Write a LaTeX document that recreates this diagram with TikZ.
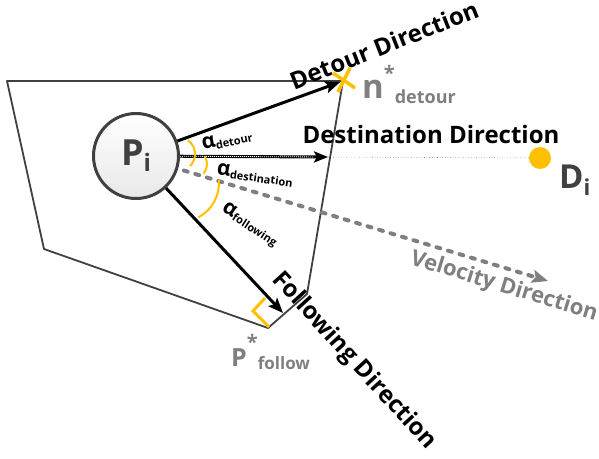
\documentclass[tikz,border=0pt]{standalone}
\usepackage{fontspec}
\setmainfont{Open Sans}
\usetikzlibrary{arrows.meta}
\definecolor{ink}{HTML}{404040}
\definecolor{muted}{HTML}{7F7F7F}
\definecolor{warm}{HTML}{FFC000}
\newcommand\fsz[1]{\fontsize{#1}{#1}\selectfont}

\begin{document}
\begin{tikzpicture}[x=1pt,y=-1pt,
  region/.style={ink,line width=1.8pt,line join=round},
  dirarrow/.style={line width=3pt,-{Stealth[length=15pt,width=12pt,inset=3pt]}},
  dirlabel/.style={font=\bfseries\fsz{24},inner sep=0pt},
  anglabel/.style={font=\bfseries,inner sep=0pt},
  angarc/.style={warm,line width=2pt}]
\useasboundingbox (0,0) rectangle (599,458);

% perception region
\coordinate (tl) at (7,81);
\coordinate (ndetour) at (343,81);
\coordinate (rb) at (307,294);
\coordinate (fc) at (268,328);
\coordinate (bl) at (44,249);
\draw[region] (tl) -- (ndetour) -- (rb) -- (fc) -- (bl) -- cycle;

\coordinate (destend) at (328,157);
\coordinate (pfollow) at (283,313);
\coordinate (velend) at (548,281);

\node[circle,draw=ink,line width=3pt,minimum size=85pt,inner sep=0pt,
  top color=white,bottom color=gray!18,text=ink,font=\bfseries] (pi) at (136,156)
  {\fsz{36}P\raisebox{-6pt}{\fsz{24}i}};
\node[circle,fill=warm,minimum size=22pt,inner sep=0pt] (di) at (540,158) {};

% directions
\draw[muted,line width=0.6pt,dotted] (destend) -- (di);
\draw[muted,line width=4pt,line cap=round,dash pattern=on 4pt off 8pt,shorten <=6pt,
  -{Stealth[length=16pt,width=13pt,inset=3pt]}] (pi) -- (velend);
\draw[dirarrow,shorten >=3pt] (pi) -- (ndetour);
\draw[dirarrow,-{Stealth[length=14pt,width=11pt,inset=3pt]}] (pi) -- (destend);
\draw[white,line width=0.8pt,dash pattern=on 1pt off 1pt,shorten >=14pt] (pi) -- (destend);
\draw[dirarrow] (pi) -- (pfollow);

% angles
\draw[angarc] (178,154) ++(-54:17) arc[start angle=-54,end angle=45,radius=17];
\draw[angarc] (192,164) ++(-30:15) arc[start angle=-30,end angle=40,radius=15];
\draw[angarc] (180,183) ++(-5:39) arc[start angle=-5,end angle=62,radius=39];
\draw[warm,line width=3pt] ([shift={(-3,-30)}]fc) -- ([shift={(-15,-17)}]fc) -- ([shift={(1,-1)}]fc);
\draw[warm,line width=3.5pt] ([shift={(-10,-8)}]ndetour) -- ([shift={(12,7)}]ndetour)
  ([shift={(7,-13)}]ndetour) -- ([shift={(-5,11)}]ndetour);

\node[anglabel,rotate=12] (adetour) at (227,140) {\fsz{21}α\raisebox{-2pt}{\fsz{11}detour}};
\node[anglabel,rotate=-8] (adest) at (255,175) {\fsz{21}α\raisebox{-2pt}{\fsz{11}destination}};
\node[anglabel,rotate=-33] (afollow) at (250,225) {\fsz{21}α\raisebox{-2pt}{\fsz{11}following}};

% labels
\node[dirlabel,rotate=21.5] (detourlbl) at (384,45) {Detour Direction};
\node[dirlabel,anchor=base] (destlbl) at (431,143) {Destination Direction};
\node[dirlabel,rotate=-47.5] (followlbl) at (354,361) {Following Direction};
\node[muted,font=\bfseries\fsz{22},inner sep=0pt,rotate=-17] (vellbl) at (504,287) {Velocity Direction};
\node[anchor=base west,muted,inner sep=0pt,font=\bfseries] (nlbl) at (362,98)
  {\fsz{33}n\raisebox{18pt}{\fsz{20}*}\raisebox{-5pt}{\fsz{18}detour}};
\node[anchor=base west,muted,inner sep=0pt,font=\bfseries] (plbl) at (231,366)
  {\fsz{25}P\raisebox{17pt}{\fsz{20}*}\raisebox{-3pt}{\fsz{17}follow}};
\node[anchor=base west,text=ink,inner sep=0pt,font=\bfseries] (dlbl) at (559,188)
  {\fsz{33}D\raisebox{-7pt}{\fsz{22}i}};
\end{tikzpicture}
\end{document}
